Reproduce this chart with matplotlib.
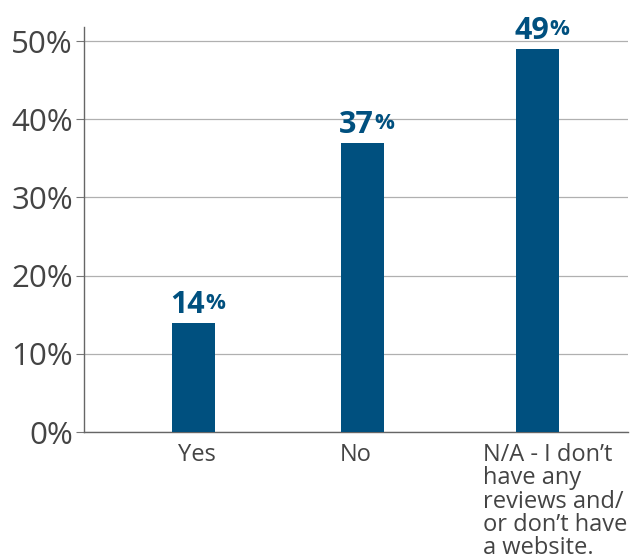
import matplotlib
matplotlib.use("Agg")
import matplotlib.pyplot as plt
import matplotlib.transforms as mtransforms
import numpy as np

plt.rcParams['font.family'] = ['Open Sans', 'DejaVu Sans']

categories = ["Yes", "No", "N/A - I don\u2019t\nhave any\nreviews and/\nor don\u2019t have\na website."]
values = [14, 37, 49]
yticks = [0, 10, 20, 30, 40, 50]

bar_color = "#00507f"
text_gray = "#444444"
x_pos = np.array([0.0, 0.98, 2.0])

fig = plt.figure(figsize=(6.32, 5.54), dpi=100)
ax = fig.add_axes([0.1329, 0.2202, 0.8608, 0.7311])

ax.bar(x_pos, values, width=0.25, color=bar_color, zorder=3)

ax.set_xlim(-0.635, 2.525)
ax.set_ylim(0, 51.8)
ax.set_yticks(yticks)
ax.set_yticklabels([f"{t}%" for t in yticks], fontsize=22.5, color=text_gray)
ax.yaxis.grid(True, color="#b0b0b0", linewidth=0.9, zorder=0)
ax.tick_params(axis='y', length=6, width=0.8, color="#777777", pad=2)

ax.set_xticks(x_pos)
ax.set_xticklabels(categories, fontsize=17, color=text_gray,
                   multialignment='left', linespacing=0.96)
ax.tick_params(axis='x', length=0, pad=8)
# nudge category labels sideways
shifts = [4, -6, 18]
for lab, dx in zip(ax.get_xticklabels(), shifts):
    lab.set_transform(lab.get_transform() +
                      mtransforms.ScaledTranslation(dx / 100, 0, fig.dpi_scale_trans))
    lab.set_verticalalignment('top')

for side in ['top', 'right']:
    ax.spines[side].set_visible(False)
for side in ['left', 'bottom']:
    ax.spines[side].set_color("#666666")
    ax.spines[side].set_linewidth(1.0)

# value labels: bold number with a raised percent sign
for xp, v in zip(x_pos, values):
    num = ax.annotate(f"{v}", xy=(xp, v), xytext=(-4, 2), textcoords='offset points',
                      ha='center', va='bottom', fontsize=22, fontweight='bold',
                      color=bar_color)
    ax.annotate("%", xy=(1, 0.9), xycoords=num, xytext=(0, 0),
                textcoords='offset points', ha='left', va='top',
                fontsize=16, fontweight='bold', color=bar_color)

fig.savefig("out.png", dpi=100)
